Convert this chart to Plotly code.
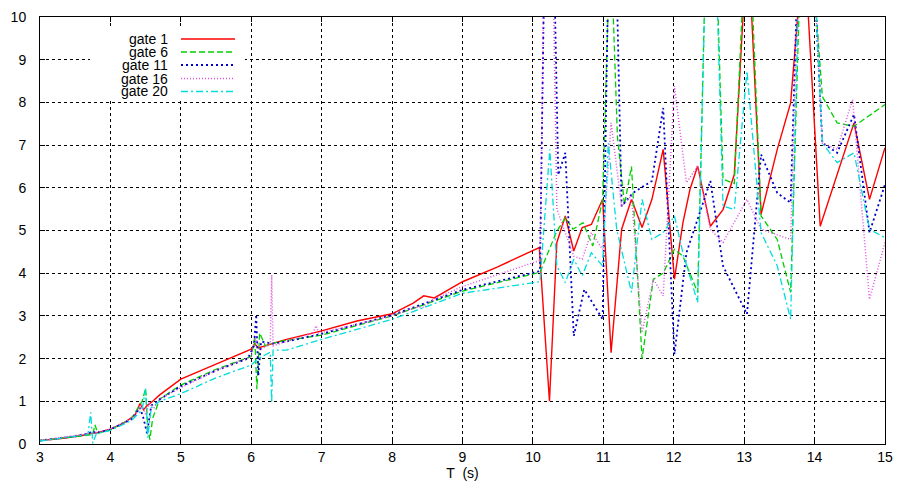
import plotly.graph_objects as go

# ---------------- data ----------------
series_names = ["gate 1", "gate 6", "gate 11", "gate 16", "gate 20"]

t_gate1 = [3.0, 3.3, 3.6, 3.7, 3.8, 4.0, 4.2, 4.35, 4.42, 4.47, 4.52, 4.6, 4.7, 5.0, 5.5, 6.0, 6.05, 6.1,
           6.3, 6.5, 7.0, 7.3, 7.5, 8.0, 8.3, 8.45, 8.6, 9.0, 9.5, 10.09,
           10.235, 10.34, 10.46, 10.58, 10.70, 10.83, 10.99, 11.11, 11.26, 11.40, 11.55, 11.69, 11.85,
           12.01, 12.13, 12.23, 12.34, 12.52, 12.70, 12.86, 13.05, 13.24, 13.47, 13.66, 13.85, 14.08,
           14.56, 14.78, 15.0]
y_gate1 = [0.08, 0.13, 0.2, 0.24, 0.26, 0.35, 0.5, 0.68, 0.95, 0.8, 0.9, 1.0, 1.15, 1.52, 1.87, 2.22, 2.35, 2.25,
           2.35, 2.45, 2.65, 2.78, 2.88, 3.05, 3.3, 3.47, 3.42, 3.8, 4.15, 4.6,
           1.0, 4.72, 5.34, 4.52, 5.07, 5.14, 5.73, 2.14, 5.03, 5.73, 5.07, 5.73, 6.9,
           3.86, 5.18, 5.96, 6.51, 5.1, 5.49, 6.31, 12.0, 5.38, 6.9, 7.99, 11.8, 5.1,
           7.52, 5.73, 6.94]

t_gate6 = [3.0, 3.5, 3.75, 3.78, 3.82, 4.0, 4.3, 4.45, 4.5, 4.53, 4.56, 4.6, 4.7, 5.0, 5.5, 6.0, 6.05, 6.08,
           6.12, 6.2, 6.4, 7.0, 8.0, 9.0, 10.1,
           10.33, 10.46, 10.57, 10.71, 10.85, 10.99, 11.1, 11.2, 11.3, 11.40, 11.55, 11.71, 11.85, 12.01,
           12.13, 12.34, 12.52, 12.70, 12.86, 13.05, 13.24, 13.47, 13.66, 13.85, 14.11, 14.32, 14.56, 15.0]
y_gate6 = [0.08, 0.18, 0.22, 0.45, 0.25, 0.33, 0.6, 1.0, 1.3, 0.4, 0.1, 0.6, 1.05, 1.38, 1.75, 2.05, 2.5, 1.28,
           2.6, 2.3, 2.4, 2.55, 3.0, 3.58, 4.02,
           4.95, 5.3, 5.03, 5.18, 4.64, 5.73, 12.0, 7.2, 5.6, 6.5, 2.0, 3.86, 4.0, 4.56,
           4.4, 3.55, 16.0, 6.2, 6.1, 13.0, 5.34, 4.79, 3.55, 14.0, 8.14, 7.52, 7.44, 7.95]

t_gate11 = [3.0, 3.5, 3.7, 3.73, 3.8, 4.0, 4.3, 4.42, 4.47, 4.52, 4.58, 4.7, 5.0, 5.5, 5.95, 6.04, 6.07,
            6.1, 6.14, 6.3, 6.5, 7.0, 8.0, 9.0, 10.1,
            10.22, 10.36, 10.46, 10.58, 10.73, 10.99, 11.12, 11.26, 11.42, 11.69, 11.85, 12.01, 12.18,
            12.52, 12.70, 13.04, 13.24, 13.47, 13.66, 13.85, 14.11, 14.32, 14.56, 14.78, 15.0]
y_gate11 = [0.08, 0.18, 0.25, 0.3, 0.26, 0.34, 0.58, 0.85, 0.6, 0.25, 0.9, 1.05, 1.35, 1.72, 2.0, 2.3, 3.03,
            1.6, 2.4, 2.35, 2.4, 2.58, 3.02, 3.61, 4.05,
            18.0, 6.3, 6.82, 2.53, 3.62, 2.92, 16.0, 5.57, 5.88, 6.16, 7.87, 2.1, 4.48,
            6.16, 4.17, 3.04, 6.78, 5.88, 5.65, 16.0, 7.05, 6.82, 7.72, 4.95, 6.08]

t_gate16 = [3.0, 3.5, 3.7, 3.8, 4.0, 4.3, 4.45, 4.5, 4.55, 4.62, 4.7, 5.0, 5.5, 6.0, 6.06, 6.12, 6.27,
            6.29, 6.31, 6.5, 6.88, 6.92, 6.96, 7.5, 8.0, 8.35, 8.45, 8.55, 9.0, 10.1,
            10.22, 10.34, 10.58, 10.70, 10.83, 10.99, 11.11, 11.26, 11.40, 11.55, 11.71, 11.85, 12.01,
            12.18, 12.34, 12.52, 12.70, 13.04, 13.24, 13.66, 13.85, 14.11, 14.32, 14.54, 14.78, 15.0]
y_gate16 = [0.08, 0.19, 0.24, 0.27, 0.35, 0.6, 0.9, 0.7, 0.95, 0.85, 1.05, 1.32, 1.72, 2.05, 2.5, 2.2, 2.35,
            3.96, 2.3, 2.4, 2.6, 2.77, 2.6, 2.8, 3.0, 3.2, 3.2, 3.35, 3.69, 4.3,
            18.0, 5.5, 4.4, 4.33, 4.95, 4.56, 7.52, 5.57, 5.81, 2.61, 3.86, 3.47, 8.38,
            6.12, 6.51, 5.03, 4.72, 5.73, 5.03, 4.79, 16.0, 7.05, 6.9, 8.07, 3.39, 4.72]

t_gate20 = [3.0, 3.5, 3.68, 3.72, 3.75, 3.8, 4.0, 4.3, 4.45, 4.5, 4.53, 4.58, 4.7, 5.0, 5.5, 6.0, 6.1,
            6.27, 6.29, 6.31, 6.5, 7.0, 8.0, 9.0, 10.1,
            10.24, 10.34, 10.46, 10.58, 10.70, 10.83, 10.99, 11.07, 11.19, 11.40, 11.55, 11.69, 11.85,
            12.01, 12.13, 12.34, 12.52, 12.70, 12.86, 13.04, 13.24, 13.47, 13.66, 13.85, 14.11, 14.32,
            14.56, 14.78, 15.0]
y_gate20 = [0.07, 0.17, 0.22, 0.74, 0.02, 0.24, 0.32, 0.55, 0.8, 1.3, 0.15, 0.85, 1.0, 1.18, 1.55, 1.85, 2.0,
            2.15, 0.96, 2.2, 2.2, 2.45, 2.92, 3.53, 3.8,
            6.9, 4.17, 3.78, 4.33, 3.94, 4.48, 4.17, 7.05, 5.03, 3.55, 5.73, 4.79, 4.95,
            5.34, 4.48, 3.31, 16.0, 5.57, 5.49, 8.73, 4.95, 4.17, 2.92, 16.0, 7.05, 6.59,
            6.82, 5.03, 4.83]

x_ticks = list(range(3, 16))
y_ticks = list(range(0, 11))

# ---------------- styles ----------------
colors = ["#ff0000", "#00d000", "#0000c8", "#e050e0", "#00dcdc"]
dashes = ["solid", "6px,3px", "2px,3px", "1px,2px", "7px,3px,2px,3px"]
widths = [1.4, 1.3, 1.8, 1.5, 1.3]

ts = [t_gate1, t_gate6, t_gate11, t_gate16, t_gate20]
ys = [y_gate1, y_gate6, y_gate11, y_gate16, y_gate20]

fig = go.Figure()
for name, t, y, c, d, w in zip(series_names, ts, ys, colors, dashes, widths):
    fig.add_trace(go.Scatter(x=t, y=y, mode="lines", name=name,
                             line=dict(color=c, dash=d, width=w), showlegend=False))

font_main = dict(family="Liberation Sans, Arial, sans-serif", size=14, color="#000000")
font_leg = dict(family="Liberation Sans, Arial, sans-serif", size=14, color="#000000")

axis_common = dict(
    showgrid=True, gridcolor="#000000", gridwidth=1, griddash="dot",
    showline=True, linecolor="#000000", linewidth=1, mirror="all",
    ticks="inside", ticklen=5, tickcolor="#000000",
    zeroline=False, tickfont=font_main, automargin=False,
)

fig.update_xaxes(range=[3, 15], tickvals=x_ticks, ticktext=[str(v) for v in x_ticks],
                 title=dict(text="T  (s)", font=font_main, standoff=2), **axis_common)
fig.update_yaxes(range=[0, 10], tickvals=y_ticks, ticktext=[str(v) for v in y_ticks],
                 ticklabelstandoff=10, **axis_common)

# legend (gnuplot style: text right-aligned, sample line to the right)
L, R, T, B = 40, 885, 17, 444
W, H = R - L, B - T
shapes = [dict(type="rect", xref="paper", yref="paper", layer="above",
               x0=(90 - L) / W, x1=(245 - L) / W,
               y0=(B - 100) / H, y1=(B - 27) / H,
               fillcolor="white", line=dict(width=0))]
annotations = []
row_y = [39, 52, 65, 78.5, 91.5]
for name, c, d, w, py in zip(series_names, colors, dashes, widths, row_y):
    yp = (B - py) / H
    annotations.append(dict(xref="paper", yref="paper", x=(169 - L) / W, y=yp,
                            text=name, showarrow=False, xanchor="right", yanchor="middle",
                            font=font_leg, borderpad=0))
    shapes.append(dict(type="line", xref="paper", yref="paper", layer="above",
                       x0=(181 - L) / W, x1=(235 - L) / W, y0=yp, y1=yp,
                       line=dict(color=c, dash=d, width=w)))

fig.update_layout(
    width=901, height=488,
    margin=dict(l=L, r=901 - R, t=T, b=488 - B, autoexpand=False),
    paper_bgcolor="white", plot_bgcolor="white",
    font=font_main,
    shapes=shapes, annotations=annotations,
)

fig.write_html("out.html", config={"displayModeBar": False},
               post_script="document.body.style.margin='0px';")
